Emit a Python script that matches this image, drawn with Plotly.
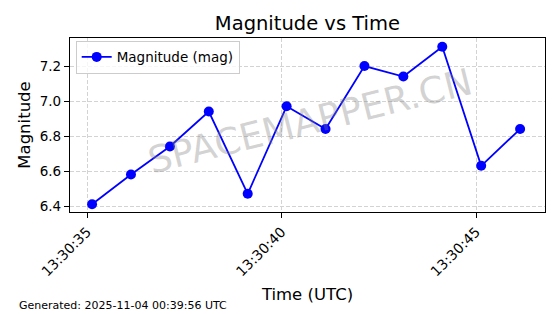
import plotly.graph_objects as go

times = ["2025-11-04 13:30:35.13", "2025-11-04 13:30:36.13", "2025-11-04 13:30:37.13",
         "2025-11-04 13:30:38.13", "2025-11-04 13:30:39.13", "2025-11-04 13:30:40.13",
         "2025-11-04 13:30:41.13", "2025-11-04 13:30:42.13", "2025-11-04 13:30:43.13",
         "2025-11-04 13:30:44.13", "2025-11-04 13:30:45.13", "2025-11-04 13:30:46.13"]
magnitude = [6.41, 6.58, 6.74, 6.94, 6.47, 6.97, 6.84, 7.20, 7.14, 7.31, 6.63, 6.84]
tick_vals = ["2025-11-04 13:30:35", "2025-11-04 13:30:40", "2025-11-04 13:30:45"]
tick_text = ["13:30:35", "13:30:40", "13:30:45"]
y_ticks = [6.4, 6.6, 6.8, 7.0, 7.2]

font = "DejaVu Sans"
fig = go.Figure()
fig.add_trace(go.Scatter(x=times, y=magnitude, mode="lines+markers",
                         name="Magnitude (mag)",
                         line=dict(color="#0000ff", width=1.8),
                         marker=dict(color="#0000ff", size=10)))

fig.update_layout(
    width=560, height=314,
    margin=dict(l=70, r=15, t=38, b=102),
    paper_bgcolor="white", plot_bgcolor="white",
    font=dict(family=font, color="black", size=12),
    title=dict(text="Magnitude vs Time", x=0.549, xanchor="center", y=0.925, yanchor="middle",
               font=dict(size=19.5, family=font)),
    showlegend=True,
    legend=dict(x=0.012, y=0.985, xanchor="left", yanchor="top",
                bgcolor="rgba(255,255,255,0.8)", bordercolor="#cccccc", borderwidth=1,
                font=dict(size=13.5, family=font)),
    xaxis=dict(type="date",
               range=["2025-11-04 13:30:34.563", "2025-11-04 13:30:46.77"],
               tickvals=tick_vals, ticktext=tick_text, tickangle=-45,
               showgrid=True, gridcolor="#d3d3d3", griddash="4px,2px", gridwidth=1,
               showline=True, linecolor="black", linewidth=1.2, mirror=True,
               ticks="outside", ticklen=5, tickcolor="black",
               tickfont=dict(size=14, family=font),
               title=dict(text="Time (UTC)", font=dict(size=16.5, family=font), standoff=10),
               zeroline=False),
    yaxis=dict(range=[6.366, 7.36], tickvals=y_ticks, ticktext=["6.4", "6.6", "6.8", "7.0", "7.2"],
               showgrid=True, gridcolor="#d3d3d3", griddash="4px,2px", gridwidth=1,
               showline=True, linecolor="black", linewidth=1.2, mirror=True,
               ticks="outside", ticklen=5, tickcolor="black",
               tickfont=dict(size=13.5, family=font),
               title=dict(text="Magnitude", font=dict(size=16.5, family=font), standoff=4),
               zeroline=False),
)

fig.add_annotation(text="SPACEMAPPER.CN", xref="paper", yref="paper", x=0.505, y=0.52,
                   showarrow=False, textangle=-14,
                   font=dict(size=37, color="rgba(128,128,128,0.35)", family=font))
fig.add_annotation(text="Generated: 2025-11-04 00:39:56 UTC", xref="paper", yref="paper",
                   x=(17 - 70) / 475, y=(212 - 305) / 174, xanchor="left", yanchor="middle",
                   showarrow=False, font=dict(size=11, family=font))

fig.write_html("out.html")
